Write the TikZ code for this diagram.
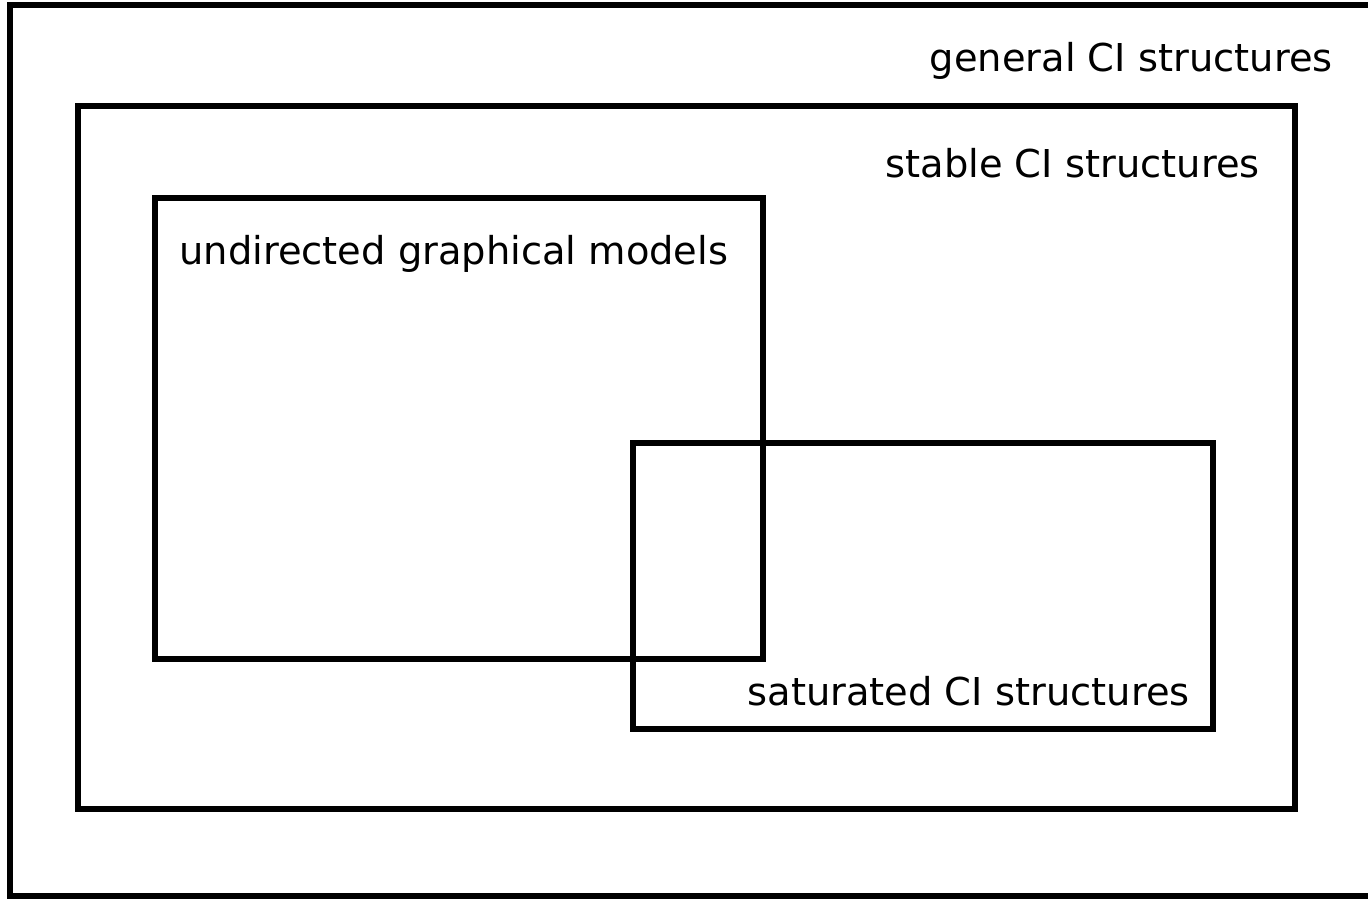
\documentclass[tikz,border=0pt]{standalone}
\usepackage{fontspec}
\setmainfont{DejaVu Sans}
\begin{document}
\begin{tikzpicture}[x=0.5pt,y=-0.5pt,
  setbox/.style={draw=black,line width=2.6pt},
  lbl/.style={inner sep=0pt,font=\fontsize{19.2}{23}\selectfont}]
\useasboundingbox (0,0) rectangle (1368,899);
\fill[white] (0,0) rectangle (1368,899);
\begin{scope}
\clip (0,0) rectangle (1368,899);
\draw[setbox] (10,5) rectangle (1390,896);
\end{scope}
\draw[setbox] (78,106) rectangle (1295,809);
\draw[setbox] (155,198) rectangle (763,659);
\draw[setbox] (633,443) rectangle (1213,729);
\node[lbl,anchor=base east] (general) at (1333,72) {general CI structures};
\node[lbl,anchor=base east] (stable) at (1260,177) {stable CI structures};
\node[lbl,anchor=base west] (undirected) at (179,264) {undirected graphical models};
\node[lbl,anchor=base east] (saturated) at (1190,705) {saturated CI structures};
\end{tikzpicture}
\end{document}
